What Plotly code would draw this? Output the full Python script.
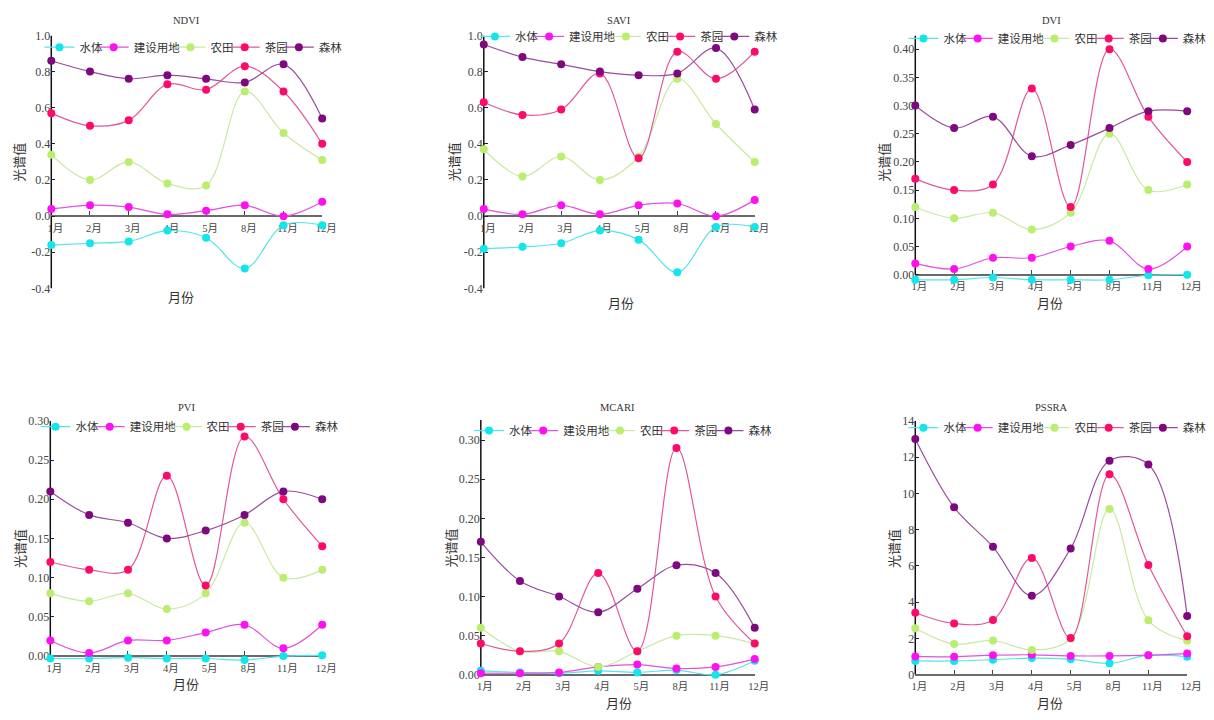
import plotly.graph_objects as go

# ---------------- data ----------------
months = ["1月", "2月", "3月", "4月", "5月", "8月", "11月", "12月"]
classes = ["水体", "建设用地", "农田", "茶园", "森林"]
panel_titles = ["NDVI", "SAVI", "DVI", "PVI", "MCARI", "PSSRA"]

ndvi_water = [-0.16, -0.15, -0.14, -0.08, -0.12, -0.29, -0.05, -0.05]
ndvi_built = [0.04, 0.06, 0.05, 0.01, 0.03, 0.06, 0.00, 0.08]
ndvi_farm = [0.34, 0.20, 0.30, 0.18, 0.17, 0.69, 0.46, 0.31]
ndvi_tea = [0.57, 0.50, 0.53, 0.73, 0.70, 0.83, 0.69, 0.40]
ndvi_forest = [0.86, 0.80, 0.76, 0.78, 0.76, 0.74, 0.84, 0.54]

savi_water = [-0.18, -0.17, -0.15, -0.08, -0.13, -0.31, -0.06, -0.06]
savi_built = [0.04, 0.01, 0.06, 0.01, 0.06, 0.07, 0.00, 0.09]
savi_farm = [0.37, 0.22, 0.33, 0.20, 0.33, 0.76, 0.51, 0.30]
savi_tea = [0.63, 0.56, 0.59, 0.79, 0.32, 0.91, 0.76, 0.91]
savi_forest = [0.95, 0.88, 0.84, 0.80, 0.78, 0.79, 0.93, 0.59]

dvi_water = [-0.009, -0.009, -0.005, -0.009, -0.009, -0.009, -0.001, 0.0]
dvi_built = [0.02, 0.01, 0.03, 0.03, 0.05, 0.06, 0.01, 0.05]
dvi_farm = [0.12, 0.10, 0.11, 0.08, 0.11, 0.25, 0.15, 0.16]
dvi_tea = [0.17, 0.15, 0.16, 0.33, 0.12, 0.40, 0.28, 0.20]
dvi_forest = [0.30, 0.26, 0.28, 0.21, 0.23, 0.26, 0.29, 0.29]

pvi_water = [-0.003, -0.003, -0.002, -0.003, -0.003, -0.005, 0.0, 0.001]
pvi_built = [0.02, 0.004, 0.02, 0.02, 0.03, 0.04, 0.01, 0.04]
pvi_farm = [0.08, 0.07, 0.08, 0.06, 0.08, 0.17, 0.10, 0.11]
pvi_tea = [0.12, 0.11, 0.11, 0.23, 0.09, 0.28, 0.20, 0.14]
pvi_forest = [0.21, 0.18, 0.17, 0.15, 0.16, 0.18, 0.21, 0.20]

mcari_water = [0.005, 0.003, 0.002, 0.005, 0.003, 0.006, 0.0, 0.018]
mcari_built = [0.002, 0.002, 0.003, 0.010, 0.013, 0.008, 0.010, 0.020]
mcari_farm = [0.06, 0.03, 0.03, 0.01, 0.03, 0.05, 0.05, 0.04]
mcari_tea = [0.04, 0.03, 0.04, 0.13, 0.03, 0.29, 0.10, 0.04]
mcari_forest = [0.17, 0.12, 0.10, 0.08, 0.11, 0.14, 0.13, 0.06]

pssra_water = [0.76, 0.76, 0.83, 0.92, 0.86, 0.63, 1.08, 0.99]
pssra_built = [1.01, 0.99, 1.08, 1.10, 1.04, 1.04, 1.08, 1.17]
pssra_farm = [2.56, 1.69, 1.89, 1.37, 2.00, 9.14, 3.00, 1.87]
pssra_tea = [3.42, 2.83, 3.02, 6.44, 2.02, 11.05, 6.05, 2.12]
pssra_forest = [13.0, 9.23, 7.05, 4.35, 6.96, 11.8, 11.59, 3.24]

ndvi_tickvals = [-0.4, -0.2, 0.0, 0.2, 0.4, 0.6, 0.8, 1.0]
ndvi_ticktext = ["-0.4", "-0.2", "0.0", "0.2", "0.4", "0.6", "0.8", "1.0"]

series = [
    [ndvi_water, ndvi_built, ndvi_farm, ndvi_tea, ndvi_forest],
    [savi_water, savi_built, savi_farm, savi_tea, savi_forest],
    [dvi_water, dvi_built, dvi_farm, dvi_tea, dvi_forest],
    [pvi_water, pvi_built, pvi_farm, pvi_tea, pvi_forest],
    [mcari_water, mcari_built, mcari_farm, mcari_tea, mcari_forest],
    [pssra_water, pssra_built, pssra_farm, pssra_tea, pssra_forest],
]

# ---------------- style ----------------
W, H = 1214, 720
marker_colors = ["#12E6EC", "#FF10F0", "#B9EE6E", "#FF0A6A", "#7E087E"]
line_colors = ["#55E4EA", "#E052E0", "#CBE9A2", "#E0589A", "#9A4C9C"]
CJK = "Noto Sans CJK SC"
SERIF = "Liberation Serif, Noto Sans CJK SC"

# panel geometry in pixels
panels = [
    dict(x0=48, x1=323, yt=29, yb=287, rng=[-0.4, 1.0], lo=-0.4, leg_y=41, leg_dx=0,
         ylab_x=15, ylab_y=158, xlab_x=180, xlab_y=295, title_y=14),
    dict(x0=487, x1=762, yt=29, yb=287, rng=[-0.4, 1.0], lo=-0.4, leg_y=30, leg_dx=3,
         ylab_x=457, ylab_y=158, xlab_x=626, xlab_y=301, title_y=14),
    dict(x0=925, x1=1201, yt=29, yb=282.2, rng=[-0.016, 0.4243], lo=0.0, leg_y=32, leg_dx=0,
         ylab_x=893, ylab_y=158, xlab_x=1062, xlab_y=301, title_y=14),
    dict(x0=47, x1=323, yt=422, yb=670, rng=[-0.01, 0.30], lo=0.0, leg_y=428, leg_dx=-3,
         ylab_x=15, ylab_y=552, xlab_x=185, xlab_y=690, title_y=408),
    dict(x0=484, x1=762, yt=421, yb=684.2, rng=[-0.004, 0.326], lo=0.0, leg_y=432, leg_dx=0,
         ylab_x=453, ylab_y=552, xlab_x=624, xlab_y=709, title_y=408),
    dict(x0=925, x1=1201, yt=422, yb=681, rng=[0.0, 14.0], lo=0.0, leg_y=429, leg_dx=0,
         ylab_x=903, ylab_y=552, xlab_x=1062, xlab_y=709, title_y=408),
]
tick_cfg = [
    dict(tickvals=ndvi_tickvals, ticktext=ndvi_ticktext),
    dict(tickvals=ndvi_tickvals, ticktext=ndvi_ticktext),
    dict(dtick=0.05, tick0=0, tickformat=".2f"),
    dict(dtick=0.05, tick0=0, tickformat=".2f"),
    dict(dtick=0.05, tick0=0, tickformat=".2f"),
    dict(dtick=2, tick0=0, tickformat="d"),
]

fig = go.Figure()
layout = dict(
    width=W, height=H, margin=dict(l=0, r=0, t=0, b=0),
    paper_bgcolor="white", plot_bgcolor="white", showlegend=True,
    font=dict(family=SERIF, color="#333"),
)
annotations = []
shapes = []
legend_count = 0

for p, (cfg, data, title) in enumerate(zip(panels, series, panel_titles)):
    n = "" if p == 0 else str(p + 1)
    xd = [cfg["x0"] / W, cfg["x1"] / W]
    yd = [1 - cfg["yb"] / H, 1 - cfg["yt"] / H]
    r0, r1 = cfg["rng"]
    zero_pos = yd[0] + (0 - r0) / (r1 - r0) * (yd[1] - yd[0])

    layout["xaxis" + n] = dict(
        domain=xd, type="category", categoryorder="array", categoryarray=months,
        range=[0, len(months) - 1], anchor="free", position=zero_pos,
        showline=True, linecolor="#6a6a6a", linewidth=2, showgrid=False, zeroline=False,
        ticks="inside", ticklen=4, tickwidth=1, tickcolor="#444",
        ticklabelshift=4, ticklabelstandoff=2,
        tickfont=dict(family=SERIF, size=10.5, color="#444"), layer="below traces",
        fixedrange=True,
    )
    layout["yaxis" + n] = dict(
        domain=yd, range=cfg["rng"], anchor="x" + n, showline=False, showgrid=False,
        zeroline=False, ticks="inside", ticklen=4, tickwidth=1, tickcolor="#222",
        tickfont=dict(family=SERIF, size=12, color="#444"), layer="below traces",
        fixedrange=True, **tick_cfg[p],
    )
    shapes.append(dict(type="line", xref=f"x{n} domain", yref=f"y{n}", x0=0, x1=0,
                       y0=cfg["lo"], y1=r1, line=dict(color="#111", width=1.5), layer="below"))

    # one legend per entry so the row can be packed tightly like the original
    L = cfg["x0"] + cfg["leg_dx"] - 12
    for k, (name, vals) in enumerate(zip(classes, data)):
        legend_count += 1
        lid = "legend" if legend_count == 1 else f"legend{legend_count}"
        layout[lid] = dict(
            x=L / W, y=1 - cfg["leg_y"] / H, xanchor="left", yanchor="middle",
            orientation="h", bgcolor="rgba(0,0,0,0)", borderwidth=0,
            font=dict(family=CJK, size=11.5, color="#333"), itemwidth=30,
        )
        fig.add_trace(go.Scatter(
            x=months, y=vals, name=name, mode="lines+markers",
            xaxis="x" + n, yaxis="y" + n, legend=lid,
            line=dict(color=line_colors[k], width=1.2, shape="spline", smoothing=1.0),
            marker=dict(color=marker_colors[k], size=8),
            cliponaxis=False, hoverinfo="x+y+name",
        ))
        L += 32 + 11.5 * len(name)

    annotations.append(dict(text=title, x=(cfg["x0"] + cfg["x1"]) / 2 / W, y=1 - cfg["title_y"] / H,
                            xref="paper", yref="paper", showarrow=False, xanchor="center",
                            yanchor="middle", font=dict(family=SERIF, size=10.5, color="#333")))
    annotations.append(dict(text="光谱值", x=cfg["ylab_x"] / W, y=1 - cfg["ylab_y"] / H,
                            xref="paper", yref="paper", showarrow=False, textangle=-90,
                            xanchor="center", yanchor="middle",
                            font=dict(family=CJK, size=13, color="#333")))
    annotations.append(dict(text="月份", x=cfg["xlab_x"] / W, y=1 - cfg["xlab_y"] / H,
                            xref="paper", yref="paper", showarrow=False,
                            xanchor="center", yanchor="middle",
                            font=dict(family=CJK, size=13, color="#333")))

layout["annotations"] = annotations
layout["shapes"] = shapes
fig.update_layout(**layout)

fig.write_html("out.html", config={"displayModeBar": False},
               post_script="document.body.style.margin='0';")
